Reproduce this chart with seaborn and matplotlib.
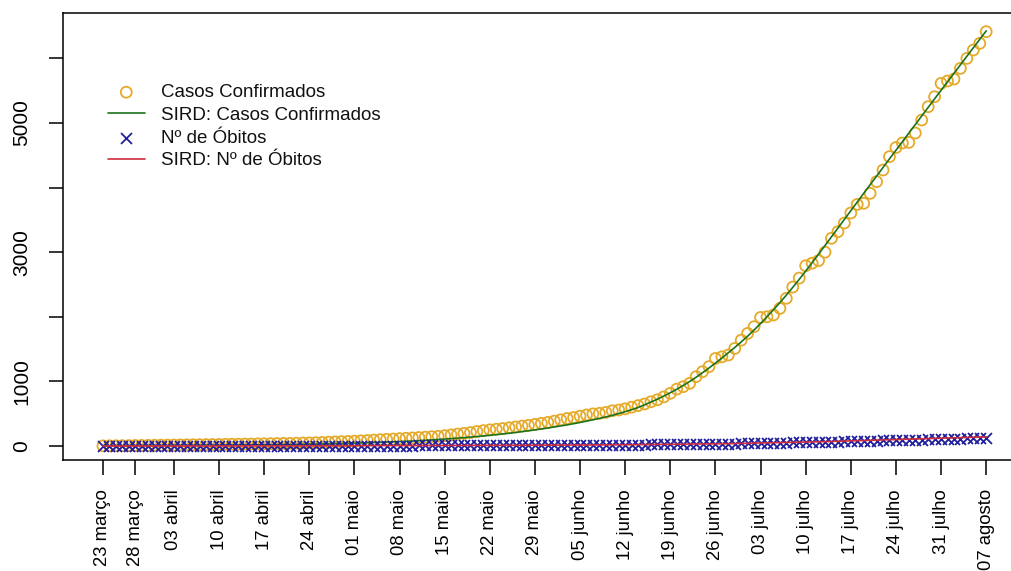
import matplotlib
matplotlib.use("Agg")
import matplotlib.pyplot as plt
import seaborn as sns
import pandas as pd
import numpy as np

# Daily series, 23 March – 07 August 2020
start_date = "2020-03-23"
end_date = "2020-08-07"

confirmed = [
    2, 3, 4, 5, 6, 8, 9, 10, 12, 13,
    14, 15, 17, 18, 19, 20, 22, 23, 24, 26,
    27, 28, 30, 31, 33, 34, 36, 38, 40, 41,
    43, 46, 48, 51, 55, 59, 63, 67, 71, 75,
    80, 85, 92, 98, 103, 108, 114, 120, 125, 131,
    137, 144, 150, 160, 172, 185, 196, 208, 224, 238,
    250, 260, 270, 282, 295, 308, 320, 335, 350, 365,
    385, 405, 425, 440, 462, 480, 497, 506, 520, 545,
    557, 575, 600, 625, 650, 685, 715, 760, 815, 880,
    918, 970, 1073, 1150, 1228, 1355, 1380, 1408, 1510, 1638,
    1743, 1847, 1990, 2000, 2028, 2130, 2286, 2460, 2600, 2790,
    2830, 2870, 3000, 3215, 3318, 3452, 3607, 3740, 3757, 3911,
    4092, 4272, 4479, 4620, 4690, 4700, 4845, 5046, 5252, 5407,
    5614, 5650, 5680, 5846, 6000, 6130, 6233, 6414,
]

sird_confirmed = [
    2, 2, 3, 3, 3, 4, 4, 4, 5, 5,
    6, 6, 7, 7, 8, 8, 9, 10, 10, 11,
    12, 13, 14, 15, 16, 17, 18, 19, 20, 22,
    23, 25, 27, 29, 31, 33, 35, 37, 40, 43,
    46, 49, 52, 56, 60, 64, 68, 72, 77, 82,
    88, 94, 100, 107, 114, 121, 129, 137, 146, 155,
    165, 175, 186, 197, 209, 222, 235, 249, 263, 278,
    294, 310, 327, 345, 364, 384, 405, 427, 450, 475,
    502, 531, 562, 596, 636, 680, 725, 773, 824, 878,
    936, 998, 1064, 1134, 1207, 1283, 1361, 1442, 1525, 1611,
    1700, 1796, 1896, 2000, 2108, 2220, 2336, 2456, 2580, 2707,
    2837, 2969, 3103, 3238, 3373, 3508, 3643, 3777, 3911, 4045,
    4179, 4312, 4445, 4578, 4711, 4844, 4977, 5110, 5242, 5374,
    5506, 5638, 5770, 5902, 6033, 6164, 6295, 6426,
]

deaths = [
    0, 0, 0, 0, 0, 0, 0, 0, 0, 0,
    0, 0, 0, 0, 1, 1, 1, 1, 1, 1,
    1, 1, 2, 2, 2, 2, 2, 2, 3, 3,
    3, 3, 3, 4, 4, 4, 4, 4, 5, 5,
    5, 5, 6, 6, 6, 6, 7, 7, 7, 8,
    8, 8, 8, 9, 9, 9, 10, 10, 10, 11,
    11, 11, 12, 12, 12, 13, 13, 13, 14, 14,
    14, 15, 15, 16, 16, 17, 17, 18, 18, 19,
    19, 20, 21, 21, 22, 23, 24, 25, 26, 27,
    28, 29, 30, 31, 33, 34, 35, 37, 38, 40,
    41, 43, 45, 46, 48, 50, 52, 54, 56, 58,
    60, 62, 64, 67, 69, 71, 73, 76, 78, 80,
    83, 85, 87, 90, 92, 95, 97, 100, 102, 105,
    107, 110, 112, 115, 117, 120, 122, 125,
]

sird_deaths = [
    0, 0, 0, 0, 0, 0, 0, 0, 0, 0,
    0, 0, 0, 0, 0, 1, 1, 1, 1, 1,
    1, 1, 1, 2, 2, 2, 2, 2, 2, 3,
    3, 3, 3, 3, 4, 4, 4, 4, 4, 5,
    5, 5, 5, 6, 6, 6, 6, 7, 7, 7,
    7, 8, 8, 8, 8, 9, 9, 9, 9, 10,
    10, 10, 11, 11, 11, 12, 12, 12, 13, 13,
    13, 14, 14, 15, 15, 16, 16, 17, 17, 18,
    18, 19, 20, 20, 21, 22, 23, 24, 25, 26,
    27, 28, 29, 30, 32, 33, 35, 36, 38, 39,
    41, 43, 45, 47, 49, 51, 53, 55, 58, 60,
    62, 65, 67, 70, 73, 75, 78, 81, 84, 87,
    90, 93, 96, 99, 102, 105, 108, 111, 114, 117,
    120, 123, 126, 129, 132, 135, 138, 141,
]

tick_dates = [
    "2020-03-23", "2020-03-28", "2020-04-03", "2020-04-10", "2020-04-17",
    "2020-04-24", "2020-05-01", "2020-05-08", "2020-05-15", "2020-05-22",
    "2020-05-29", "2020-06-05", "2020-06-12", "2020-06-19", "2020-06-26",
    "2020-07-03", "2020-07-10", "2020-07-17", "2020-07-24", "2020-07-31",
    "2020-08-07",
]
tick_labels = [
    "23 março", "28 março", "03 abril", "10 abril", "17 abril",
    "24 abril", "01 maio", "08 maio", "15 maio", "22 maio",
    "29 maio", "05 junho", "12 junho", "19 junho", "26 junho",
    "03 julho", "10 julho", "17 julho", "24 julho", "31 julho",
    "07 agosto",
]
y_ticks = [0, 1000, 2000, 3000, 4000, 5000, 6000]
y_tick_labels = ["0", "1000", "", "3000", "", "5000", ""]

dates = pd.date_range(start_date, end_date, freq="D")
df = pd.DataFrame({
    "data": dates,
    "confirmados": confirmed,
    "sird_confirmados": sird_confirmed,
    "obitos": deaths,
    "sird_obitos": sird_deaths,
})

sns.set_theme(style="ticks")
plt.rcParams["font.family"] = ["Liberation Sans", "DejaVu Sans"]

W, H = 1011, 571
fig = plt.figure(figsize=(W / 100, H / 100), dpi=100)
ax = fig.add_axes([63 / W, (H - 460) / H, (1021 - 63) / W, (460 - 13) / H])

c_gold = "#E6AA2A"
c_green = "#1C721C"
c_blue = "#1E1E9E"
c_red = "#CF2E3E"

sns.scatterplot(data=df, x="data", y="confirmados", ax=ax, marker="o",
                s=62, facecolor="none", edgecolor=c_gold, linewidth=1.3,
                label="Casos Confirmados", zorder=2)
sns.lineplot(data=df, x="data", y="sird_confirmados", ax=ax, color=c_green,
             linewidth=1.2, label="SIRD: Casos Confirmados", zorder=3)
sns.scatterplot(data=df, x="data", y="obitos", ax=ax, marker="x",
                s=62, color=c_blue, linewidth=1.3,
                label="Nº de Óbitos", zorder=4)
sns.lineplot(data=df, x="data", y="sird_obitos", ax=ax, color=c_red,
             linewidth=1.2, label="SIRD: Nº de Óbitos", zorder=5)

ax.set_xlim(dates[0] - pd.Timedelta(days=6.2), dates[-1] + pd.Timedelta(days=5.4))
ax.set_ylim(-217, 6703)

ax.set_xticks(pd.to_datetime(tick_dates))
ax.set_xticklabels(tick_labels, rotation=90, fontsize=13.3)
ax.set_yticks(y_ticks)
ax.set_yticklabels(y_tick_labels, rotation=90, va="center", fontsize=15)
ax.set_xlabel("")
ax.set_ylabel("")

ax.tick_params(axis="x", length=11, width=1.1, pad=10, color="black", labelcolor="black")
ax.tick_params(axis="y", length=10, width=1.1, pad=13, color="black", labelcolor="black")
for side in ["left", "right", "top", "bottom"]:
    ax.spines[side].set_visible(True)
    ax.spines[side].set_color("black")
    ax.spines[side].set_linewidth(1.1)

leg = ax.legend(loc="upper left", bbox_to_anchor=(108 / W, 1 - 84 / H),
                bbox_transform=fig.transFigure, frameon=False, fontsize=13.5,
                handlelength=1.95, handletextpad=0.9, labelspacing=0.3,
                borderaxespad=0, borderpad=0)
for t in leg.get_texts():
    t.set_color("#111111")

fig.savefig("out.png", dpi=100, facecolor="white")
